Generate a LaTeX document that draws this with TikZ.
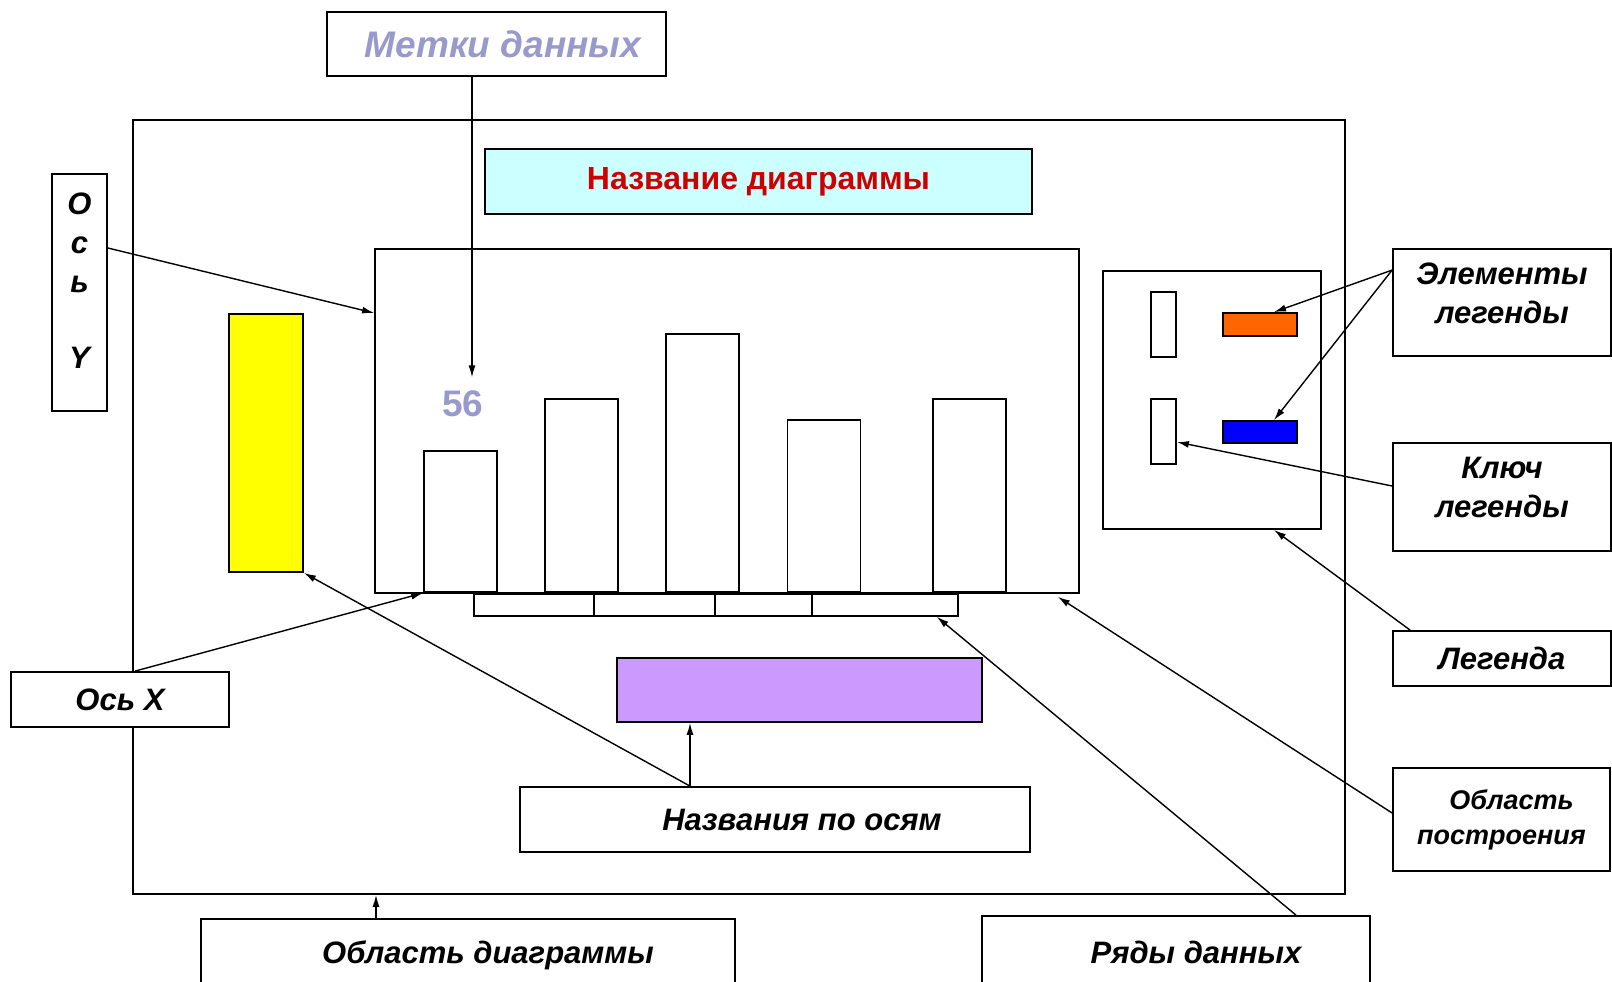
\documentclass[tikz,border=0pt]{standalone}
\usepackage{fontspec}
\setmainfont{Liberation Sans}
\usetikzlibrary{arrows.meta}
\definecolor{titlered}{HTML}{CC0000}
\definecolor{titlecyan}{HTML}{CCFFFF}
\definecolor{labelblue}{HTML}{9999CC}
\definecolor{axisyellow}{HTML}{FFFF00}
\definecolor{axispurple}{HTML}{CC99FF}
\definecolor{itemorange}{HTML}{FF6600}
\definecolor{itemblue}{HTML}{0000FF}
\begin{document}
\begin{tikzpicture}[x=1pt, y=-1pt,
    box/.style={draw, rectangle, line width=1.8pt, inner sep=0pt},
    callout/.style={box, fill=white, align=center, font=\bfseries\itshape\fontsize{31}{39}\selectfont},
    arr/.style={-{Latex[length=12pt, width=7pt]}, line width=1.4pt}]
    \useasboundingbox (0,0) rectangle (1612,982);
    \clip (0,0) rectangle (1612,982);

    % Chart
    \node (chartarea) [box, minimum width=1212pt, minimum height=774pt] at (739,507) {};
    \node (title) [box, fill=titlecyan, minimum width=547pt, minimum height=65pt, text=titlered, font=\bfseries\fontsize{32}{38}\selectfont] at (758.5,181.5) {Название диаграммы};
    \node (plotarea) [box, minimum width=704pt, minimum height=344pt] at (727,421) {};
    \node (ytitle) [box, fill=axisyellow, minimum width=74pt, minimum height=258pt] at (266,443) {};
    \foreach \x/\h [count=\i] in {460.5/141, 581.5/193, 702.5/258, 824/172, 969.5/193}
        \node (bar\i) [box, anchor=south, minimum width=73pt, minimum height=\h pt] at (\x,593) {};
    \node (brk) [box, anchor=north west, minimum width=484pt, minimum height=22pt] at (473,593) {};
    \foreach \d in {594,715,812}
        \draw [line width=1.8pt] (\d,593) -- (\d,615);
    \node (val) [text=labelblue, font=\bfseries\fontsize{37}{44}\selectfont] at (463,404) {56};
    \node (axtitle) [box, fill=axispurple, minimum width=365pt, minimum height=64pt] at (799.5,690) {};

    % Legend
    \node (legend) [box, minimum width=218pt, minimum height=258pt] at (1212,400) {};
    \node (key1) [box, minimum width=25pt, minimum height=65pt] at (1163.5,324.5) {};
    \node (key2) [box, minimum width=25pt, minimum height=65pt] at (1163.5,431.5) {};
    \node (item1) [box, fill=itemorange, minimum width=74pt, minimum height=23pt] at (1260,324.5) {};
    \node (item2) [box, fill=itemblue, minimum width=74pt, minimum height=22pt] at (1260,432) {};

    % Callouts
    \node (dlabels) [callout, minimum width=339pt, minimum height=64pt, text=labelblue, font=\bfseries\itshape\fontsize{37}{44}\selectfont] at (496.5,44) {\hspace*{13pt}Метки данных};
    \node (yaxis) [callout, minimum width=55pt, minimum height=237pt] at (79.5,292.5) {О\\с\\ь\\[37pt]Y\rule[-24pt]{0pt}{0pt}};
    \node (xaxis) [callout, minimum width=218pt, minimum height=55pt] at (120,699.5) {Ось X};
    \node (axtitles) [callout, minimum width=510pt, minimum height=65pt] at (775,819.5) {\hspace*{54pt}Названия по осям};
    \node (chartlbl) [callout, minimum width=534pt, minimum height=72pt] at (468,955) {\hspace*{40pt}Область диаграммы};
    \node (serieslbl) [callout, minimum width=388pt, minimum height=72pt] at (1176,952) {\hspace*{40pt}Ряды данных};
    \node (legitems) [callout, minimum width=218pt, minimum height=107pt] at (1502,302.5) {Элементы\\легенды\rule[-19pt]{0pt}{0pt}};
    \node (legkey) [callout, minimum width=218pt, minimum height=108pt] at (1502,497) {Ключ\\легенды\rule[-19pt]{0pt}{0pt}};
    \node (leglbl) [callout, minimum width=218pt, minimum height=55pt] at (1502,658.5) {Легенда};
    \node (plotlbl) [callout, minimum width=217pt, minimum height=103pt, font=\bfseries\itshape\fontsize{27}{35}\selectfont] at (1501.5,819.5) {\hspace*{20pt}Область\\построения};

    % Connectors
    \coordinate (atop) at ([xshift=-85pt]axtitles.north);
    \coordinate (ctop) at ([xshift=-92pt]chartlbl.north);
    \draw [arr] ([xshift=-24.5pt]dlabels.south) -- ([xshift=9pt, yshift=10pt]val.north);
    \draw [arr] ([yshift=44.5pt]yaxis.east) -- ([yshift=108pt]plotarea.west);
    \draw [arr] ([xshift=15pt]xaxis.north) -- (bar1.south west);
    \draw [arr] (atop) -- (atop |- axtitle.south);
    \draw [arr] (atop) -- (ytitle.south east);
    \draw [arr] (ctop) -- (ctop |- chartarea.south);
    \draw [arr] ([xshift=120pt]serieslbl.north) -- ([xshift=-22pt]brk.south east);
    \draw [arr] ([yshift=6.5pt]plotlbl.west) -- ([shift={(-22pt,-3pt)}]plotarea.south east);
    \draw [arr] ([xshift=18pt]leglbl.north west) -- ([xshift=62pt]legend.south);
    \draw [arr] ([yshift=-22pt]legitems.north west) -- ([xshift=14pt]item1.north);
    \draw [arr] ([yshift=-22pt]legitems.north west) -- ([xshift=14pt]item2.north);
    \draw [arr] ([yshift=11pt]legkey.west) -- ([yshift=-10.5pt]key2.east);
\end{tikzpicture}
\end{document}
